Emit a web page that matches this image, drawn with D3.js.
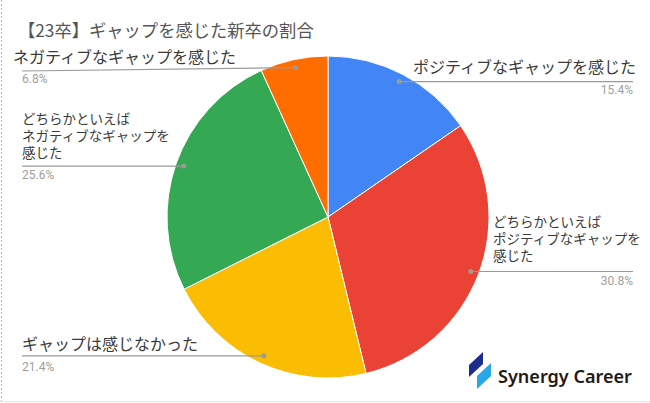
<!DOCTYPE html>
<html>
<head>
<meta charset="utf-8">
<script src="https://cdn.jsdelivr.net/npm/d3@7"></script>
<style>
  html, body { margin: 0; padding: 0; background: #fff; }
  svg { display: block; }
</style>
</head>
<body>
<svg id="chart" width="650" height="403"></svg>
<script>
// ---- data ----
const title = "【23卒】ギャップを感じた新卒の割合";
const categories = [
  "ポジティブなギャップを感じた",
  "どちらかといえばポジティブなギャップを感じた",
  "ギャップは感じなかった",
  "どちらかといえばネガティブなギャップを感じた",
  "ネガティブなギャップを感じた"
];
const labelLines = [
  ["ポジティブなギャップを感じた"],
  ["どちらかといえば", "ポジティブなギャップを", "感じた"],
  ["ギャップは感じなかった"],
  ["どちらかといえば", "ネガティブなギャップを", "感じた"],
  ["ネガティブなギャップを感じた"]
];
const values = [15.4, 30.8, 21.4, 25.6, 6.8];
const colors = ["#4285F4", "#EA4335", "#FBBC04", "#34A853", "#FF6D01"];

// ---- layout (label placement) ----
const cx = 328, cy = 217, R = 161;
const labelLayout = [
  { side: "right", textX: 636, anchor: "end",   firstBase: 73,  size: 16,   lineEnd: 633, lineY: null, pctBase: 94 },
  { side: "right", textX: 493, anchor: "start", firstBase: 227, size: 13.5, lineEnd: 633, lineY: null, pctBase: 285 },
  { side: "left",  textX: 22,  anchor: "start", firstBase: 350, size: 16,   lineEnd: 22,  lineY: null, pctBase: 371 },
  { side: "left",  textX: 22,  anchor: "start", firstBase: 124, size: 13.5, lineEnd: 22,  lineY: null, pctBase: 179 },
  { side: "left",  textX: 13,  anchor: "start", firstBase: 63,  size: 16,   lineEnd: 22,  lineY: 71,   pctBase: 83 }
];

const svg = d3.select("#chart");
const JP = "'Noto Sans CJK JP', 'Noto Sans', sans-serif";

// frame
svg.append("rect").attr("x", 0).attr("y", 0).attr("width", 650).attr("height", 403).attr("fill", "#fff");
svg.append("line").attr("x1", 1.5).attr("x2", 1.5).attr("y1", 0).attr("y2", 401)
  .attr("stroke", "#b8b8b8").attr("stroke-width", 1).attr("stroke-dasharray", "2,2");
svg.append("line").attr("x1", 0).attr("x2", 650).attr("y1", 401.5).attr("y2", 401.5)
  .attr("stroke", "#e6e6e6").attr("stroke-width", 1);

// title
svg.append("text").attr("x", 18).attr("y", 37)
  .attr("font-family", JP).attr("font-size", 17.3).attr("fill", "#555")
  .text(title);

// pie
const pie = d3.pie().sort(null).value(d => d)(values);
const arc = d3.arc().innerRadius(0).outerRadius(R);
const dotArc = d3.arc().innerRadius(R * 0.95).outerRadius(R * 0.95);

const g = svg.append("g").attr("transform", `translate(${cx},${cy})`);
g.selectAll("path").data(pie).join("path")
  .attr("d", arc)
  .attr("fill", (d, i) => colors[i])
  .attr("stroke", "#fff").attr("stroke-width", 1);

// labels
pie.forEach((d, i) => {
  const L = labelLayout[i];
  const [dx, dy] = dotArc.centroid(d);
  const px = cx + dx, py = cy + dy;
  const ly = L.lineY == null ? py : L.lineY;
  svg.append("path")
    .attr("d", `M${px},${py}L${L.lineEnd},${ly}`)
    .attr("stroke", "#9a9a9a").attr("stroke-width", 1.2).attr("fill", "none");
  svg.append("circle").attr("cx", px).attr("cy", py).attr("r", 2.5).attr("fill", "#9a9a9a");

  labelLines[i].forEach((s, k) => {
    svg.append("text")
      .attr("x", L.textX).attr("y", L.firstBase + k * 17)
      .attr("font-family", JP).attr("font-size", L.size).attr("fill", "#3a3a3a")
      .attr("text-anchor", L.anchor)
      .text(s);
  });

  svg.append("text")
    .attr("x", L.lineEnd)
    .attr("y", L.pctBase)
    .attr("text-anchor", L.side === "right" ? "end" : "start")
    .attr("font-family", "Roboto, 'Noto Sans', sans-serif").attr("font-size", 12)
    .attr("fill", "#9e9e9e")
    .text(d3.format(".1f")(values[i]) + "%");
});

// logo
const logo = svg.append("g");
logo.append("path").attr("d", "M469,365L483,352L483,364L469,377Z").attr("fill", "#1d2d8c");
logo.append("path").attr("d", "M477,376L491,363L491,376L477,389Z").attr("fill", "#27a7e7");
const brand = logo.append("text").attr("x", 498).attr("y", 383)
  .attr("font-family", "'Noto Sans', 'Open Sans', sans-serif").attr("font-weight", 600)
  .attr("font-size", 20).attr("fill", "#231815")
  .text("Synergy Career");
const w = brand.node().getComputedTextLength();
brand.attr("font-size", 20 * 134 / w);
</script>
</body>
</html>
